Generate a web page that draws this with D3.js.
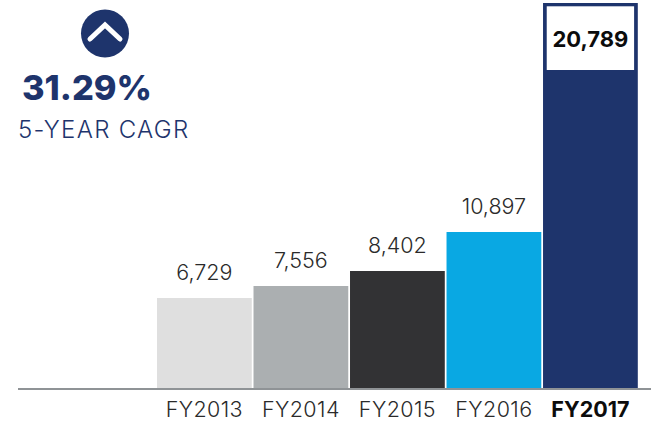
<!DOCTYPE html>
<html>
<head>
<meta charset="utf-8">
<script src="https://cdn.jsdelivr.net/npm/d3@7"></script>
<style>
  html, body { margin: 0; padding: 0; background: #fff; }
  text { font-family: Inter, "Noto Sans", sans-serif; }
</style>
</head>
<body>
<div id="chart"></div>
<script>
const categories = ["FY2013", "FY2014", "FY2015", "FY2016", "FY2017"];
const values = [6729, 7556, 8402, 10897, 20789];
const valueLabels = ["6,729", "7,556", "8,402", "10,897", "20,789"];
const barColors = ["#dfdfdf", "#abafb1", "#323234", "#09a8e3", "#1e346c"];
const cagrLabel = "31.29%";
const cagrCaption = "5-YEAR CAGR";

const width = 651, height = 422;
const baseline = 388;
const navy = "#1e346c";

const svg = d3.select("#chart").append("svg")
    .attr("width", width)
    .attr("height", height)
    .style("display", "block");

const x = d3.scaleBand()
    .domain(categories)
    .range([157, 637.8])
    .paddingInner(0.018)
    .paddingOuter(0);

// the source graphic is not drawn to a linear scale, so each value has its own stop
const y = d3.scaleLinear()
    .domain([0].concat(values))
    .range([baseline, 298, 286, 271, 232, 3]);

// bars
svg.append("g")
    .selectAll("rect")
    .data(values)
    .enter().append("rect")
        .attr("x", (d, i) => x(categories[i]))
        .attr("y", d => y(d))
        .attr("width", x.bandwidth())
        .attr("height", d => baseline - y(d))
        .attr("fill", (d, i) => barColors[i]);

// white box inset at the top of the last bar
const last = values.length - 1;
svg.append("rect")
    .attr("x", x(categories[last]) + 3.7)
    .attr("y", y(values[last]) + 3.3)
    .attr("width", x.bandwidth() - 7.4)
    .attr("height", 63.7)
    .attr("fill", "#fff");

// value labels
svg.append("g")
    .selectAll("text")
    .data(valueLabels)
    .enter().append("text")
        .attr("x", (d, i) => x(categories[i]) + x.bandwidth() / 2)
        .attr("y", (d, i) => i == last ? 47 : y(values[i]) - 18)
        .attr("text-anchor", "middle")
        .attr("font-size", (d, i) => i == last ? 22 : 21.5)
        .attr("font-weight", (d, i) => i == last ? 700 : 300)
        .attr("fill", (d, i) => i == last ? "#0c0c0c" : "#2a2a2a")
        .text(d => d);

// baseline
svg.append("line")
    .attr("x1", 18)
    .attr("x2", width)
    .attr("y1", baseline + 1)
    .attr("y2", baseline + 1)
    .attr("stroke", "#8f9396")
    .attr("stroke-width", 2);

// category labels
svg.append("g")
    .selectAll("text")
    .data(categories)
    .enter().append("text")
        .attr("x", d => x(d) + x.bandwidth() / 2)
        .attr("y", 417)
        .attr("text-anchor", "middle")
        .attr("font-size", 21.5)
        .attr("font-weight", (d, i) => i == last ? 700 : 300)
        .attr("letter-spacing", (d, i) => i == last ? 0 : 0.4)
        .attr("fill", (d, i) => i == last ? "#0c0c0c" : "#2a2a2a")
        .text(d => d);

// up arrow badge
svg.append("circle")
    .attr("cx", 105)
    .attr("cy", 33.5)
    .attr("r", 24)
    .attr("fill", navy);

svg.append("path")
    .attr("d", d3.line()([[90, 39], [105, 25], [120, 39]]))
    .attr("fill", "none")
    .attr("stroke", "#fff")
    .attr("stroke-width", 5)
    .attr("stroke-linecap", "round")
    .attr("stroke-linejoin", "miter");

svg.append("text")
    .attr("x", 22)
    .attr("y", 100)
    .attr("font-size", 34.4)
    .attr("font-weight", 800)
    .attr("fill", navy)
    .text(cagrLabel);

svg.append("text")
    .attr("x", 18)
    .attr("y", 138)
    .attr("font-size", 24)
    .attr("font-weight", 300)
    .attr("letter-spacing", 1.3)
    .attr("fill", navy)
    .text(cagrCaption);
</script>
</body>
</html>
